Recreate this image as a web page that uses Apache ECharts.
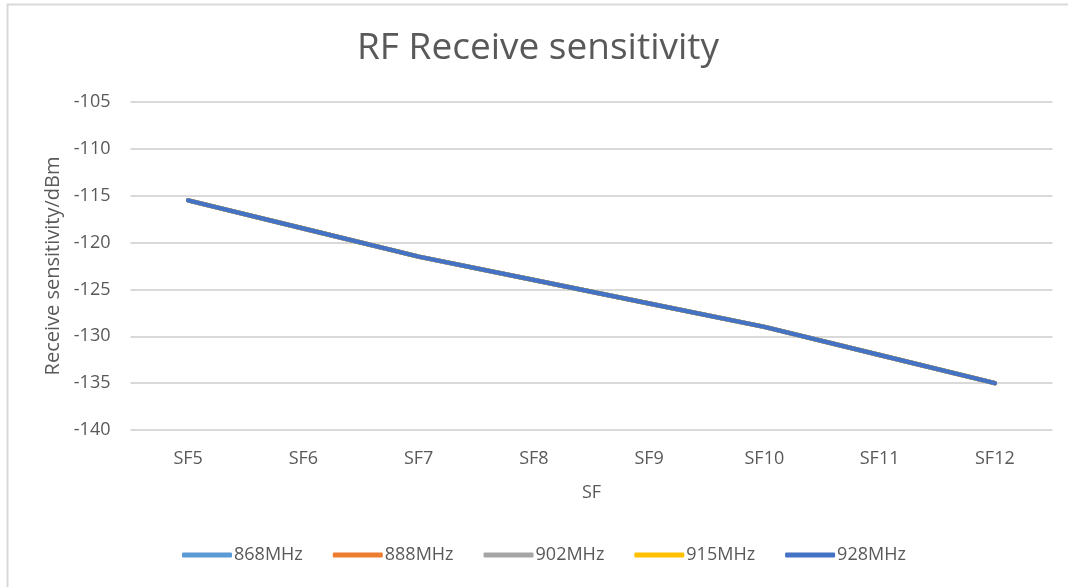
<!DOCTYPE html>
<html>
<head>
<meta charset="utf-8">
<script src="https://cdn.jsdelivr.net/npm/echarts@6/dist/echarts.min.js"></script>
<style>html,body{margin:0;padding:0;background:#fff}#c{width:1068px;height:587px}</style>
</head>
<body>
<div id="c"></div>
<script>
var categories = ['SF5', 'SF6', 'SF7', 'SF8', 'SF9', 'SF10', 'SF11', 'SF12'];
var seriesNames = ['868MHz', '888MHz', '902MHz', '915MHz', '928MHz'];
var s868 = [-115.5, -118.5, -121.5, -124, -126.5, -129, -132, -135];
var s888 = [-115.5, -118.5, -121.5, -124, -126.5, -129, -132, -135];
var s902 = [-115.5, -118.5, -121.5, -124, -126.5, -129, -132, -135];
var s915 = [-115.5, -118.5, -121.5, -124, -126.5, -129, -132, -135];
var s928 = [-115.5, -118.5, -121.5, -124, -126.5, -129, -132, -135];
var colors = ['#5B9BD5', '#ED7D31', '#A5A5A5', '#FFC000', '#4472C4'];
var seriesData = [s868, s888, s902, s915, s928];

var FONT = '"Open Sans", "Noto Sans", sans-serif';
var chart = echarts.init(document.getElementById('c'), null, {renderer: 'canvas'});
chart.setOption({
  animation: false,
  backgroundColor: '#fff',
  color: colors,
  graphic: [{
    type: 'rect', left: 5, top: 2, silent: true,
    shape: {width: 1100, height: 620},
    style: {fill: 'none', stroke: '#d9d9d9', lineWidth: 2}
  }],
  title: {
    text: 'RF Receive sensitivity',
    left: 357, top: 30, padding: 0,
    textStyle: {fontFamily: FONT, fontSize: 37, fontWeight: 'normal', color: '#595959'}
  },
  grid: {left: 130.5, right: 15.5, top: 102, bottom: 157, containLabel: false},
  xAxis: {
    type: 'category', data: categories, boundaryGap: true,
    name: 'SF', nameLocation: 'middle', nameGap: 54,
    nameTextStyle: {fontFamily: FONT, fontSize: 18, color: '#595959'},
    axisLine: {show: false}, axisTick: {show: false},
    axisLabel: {fontFamily: FONT, fontSize: 18, color: '#595959', margin: 20}
  },
  yAxis: {
    type: 'value', min: -140, max: -105, interval: 5,
    name: 'Receive sensitivity/dBm', nameLocation: 'middle', nameGap: 66, nameRotate: 90,
    nameTextStyle: {fontFamily: FONT, fontSize: 20, color: '#595959'},
    axisLine: {show: false}, axisTick: {show: false},
    axisLabel: {fontFamily: FONT, fontSize: 18, color: '#595959', margin: 20},
    splitLine: {lineStyle: {color: '#d9d9d9', width: 2}}
  },
  legend: {
    data: seriesNames, left: 182, top: 546, padding: 0,
    icon: 'roundRect', itemWidth: 50, itemHeight: 5, itemGap: 30,
    textStyle: {fontFamily: FONT, fontSize: 18, color: '#595959', padding: [0, 0, 0, -3]}
  },
  series: seriesNames.map(function (n, i) {
    return {
      name: n, type: 'line', data: seriesData[i],
      showSymbol: false, symbol: 'none',
      lineStyle: {width: 4.5, color: colors[i], cap: 'round', join: 'round'},
      itemStyle: {color: colors[i]}
    };
  })
});
</script>
</body>
</html>
